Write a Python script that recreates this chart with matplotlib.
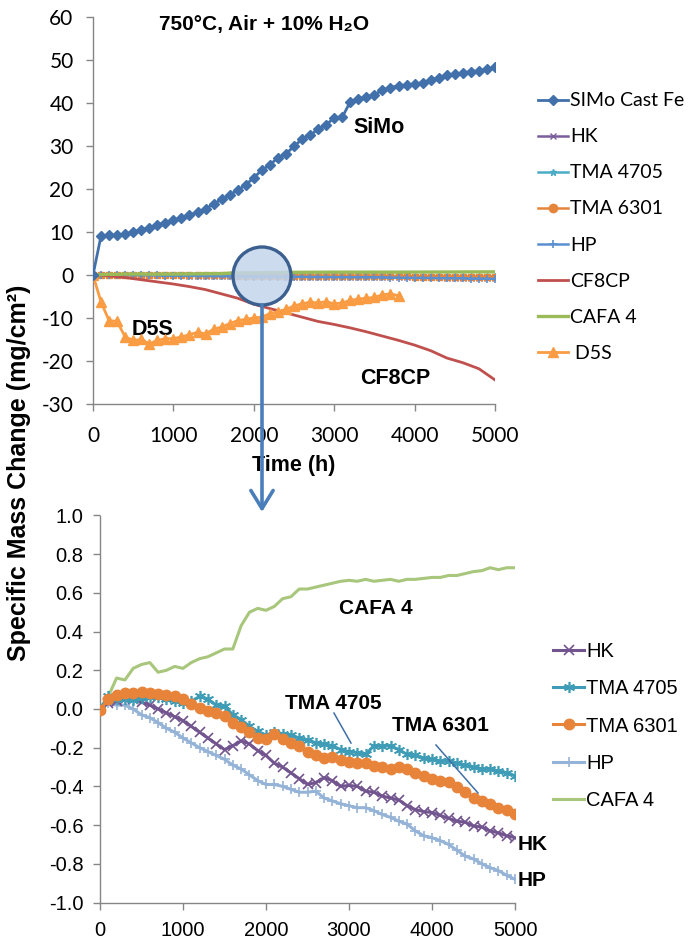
import matplotlib
matplotlib.use("Agg")
import matplotlib.pyplot as plt
from matplotlib.patches import Ellipse, FancyArrowPatch, ArrowStyle
from matplotlib.lines import Line2D
from matplotlib.ticker import MultipleLocator, FormatStrFormatter

plt.rcParams['axes.unicode_minus'] = False

# ---- exposure time axes (h) ----
hours = list(range(0, 5001, 100))
hours_d5s = list(range(0, 3801, 100))
hours_cf8cp = list(range(0, 5001, 200))

# ---- specific mass change (mg/cm^2) ----
simo = [0.0, 9.1, 9.2, 9.3, 9.5, 10.0, 10.5, 11.0, 11.7, 12.2, 12.7, 13.3, 14.0, 14.6,
        15.4, 16.5, 17.6, 18.7, 19.7, 21.0, 22.6, 24.4, 25.6, 27.3, 28.2, 29.9, 31.6,
        32.5, 33.9, 34.9, 36.6, 36.7, 40.3, 41.0, 41.3, 41.9, 43.0, 43.6, 44.0, 44.2,
        44.4, 44.7, 45.3, 45.9, 46.5, 46.7, 47.0, 47.3, 47.5, 47.8, 48.3]

cf8cp = [0.0, -0.2, -0.6, -1.1, -1.6, -2.1, -2.7, -3.4, -4.4, -5.4, -6.8, -7.8, -8.8,
         -9.8, -10.8, -11.5, -12.3, -13.2, -14.2, -15.2, -16.3, -17.6, -19.3, -20.4,
         -21.8, -24.4]

d5s = [0.0, -6.3, -10.6, -10.8, -14.4, -15.2, -15.0, -16.0, -15.2, -14.8, -14.8, -14.4,
       -13.9, -13.3, -13.7, -12.6, -12.1, -11.3, -10.6, -10.3, -10.0, -9.8, -9.0, -8.5,
       -8.0, -7.2, -6.7, -6.3, -6.5, -6.2, -6.7, -6.5, -5.9, -5.6, -5.4, -5.2, -4.6,
       -4.4, -4.8]

hk = [0.0, 0.03, 0.04, 0.05, 0.05, 0.035, 0.02, 0.0, -0.02, -0.04, -0.06, -0.09, -0.12,
      -0.15, -0.18, -0.21, -0.19, -0.165, -0.18, -0.215, -0.24, -0.28, -0.30, -0.33,
      -0.36, -0.39, -0.38, -0.355, -0.37, -0.40, -0.395, -0.40, -0.425, -0.43, -0.45,
      -0.46, -0.47, -0.50, -0.52, -0.53, -0.535, -0.55, -0.565, -0.58, -0.585, -0.605,
      -0.61, -0.63, -0.64, -0.655, -0.665]

tma4705 = [0.0, 0.065, 0.05, 0.05, 0.045, 0.055, 0.06, 0.06, 0.05, 0.04, 0.03, 0.04,
           0.065, 0.05, 0.02, 0.015, -0.03, -0.055, -0.09, -0.115, -0.135, -0.12, -0.13,
           -0.135, -0.15, -0.16, -0.175, -0.18, -0.19, -0.21, -0.22, -0.225, -0.235,
           -0.19, -0.19, -0.19, -0.21, -0.235, -0.24, -0.255, -0.26, -0.27, -0.27,
           -0.28, -0.29, -0.30, -0.31, -0.31, -0.32, -0.33, -0.345]

tma6301 = [-0.005, 0.05, 0.07, 0.085, 0.085, 0.09, 0.085, 0.075, 0.07, 0.065, 0.05,
           0.025, 0.005, -0.01, -0.02, -0.035, -0.07, -0.095, -0.12, -0.15, -0.155,
           -0.13, -0.155, -0.175, -0.19, -0.22, -0.24, -0.255, -0.25, -0.265, -0.275,
           -0.28, -0.28, -0.295, -0.30, -0.31, -0.30, -0.31, -0.33, -0.345, -0.36,
           -0.37, -0.375, -0.405, -0.43, -0.46, -0.475, -0.49, -0.51, -0.52, -0.545]

hp = [0.0, 0.03, 0.02, 0.02, 0.0, -0.03, -0.045, -0.07, -0.10, -0.12, -0.15, -0.175,
      -0.20, -0.22, -0.24, -0.26, -0.29, -0.31, -0.34, -0.37, -0.39, -0.39, -0.40,
      -0.415, -0.43, -0.43, -0.425, -0.46, -0.475, -0.49, -0.50, -0.51, -0.51, -0.525,
      -0.545, -0.56, -0.58, -0.595, -0.63, -0.655, -0.665, -0.68, -0.70, -0.73, -0.76,
      -0.775, -0.80, -0.82, -0.835, -0.86, -0.88]

cafa4 = [0.0, 0.065, 0.16, 0.15, 0.21, 0.23, 0.24, 0.19, 0.20, 0.22, 0.21, 0.24, 0.26,
         0.27, 0.29, 0.31, 0.31, 0.43, 0.50, 0.52, 0.51, 0.53, 0.57, 0.58, 0.62, 0.62,
         0.63, 0.64, 0.65, 0.66, 0.665, 0.66, 0.67, 0.66, 0.665, 0.67, 0.66, 0.67, 0.67,
         0.675, 0.68, 0.68, 0.69, 0.69, 0.70, 0.71, 0.715, 0.73, 0.72, 0.73, 0.73]

# ---- fonts ----
LATO = ['Lato', 'DejaVu Sans']
ARIAL = ['Liberation Sans', 'DejaVu Sans']
NARROW = ['Liberation Sans Narrow', 'Liberation Sans', 'DejaVu Sans']

AXIS_GREY = '#868686'

W, H = 688, 938
fig = plt.figure(figsize=(W / 100, H / 100), dpi=100)
fig.patch.set_facecolor('white')


def px_axes(left, top, right, bottom):
    return [left / W, 1 - bottom / H, (right - left) / W, (bottom - top) / H]


def style_axes(ax, font, size, pad_x, pad_y):
    for side in ('top', 'right'):
        ax.spines[side].set_visible(False)
    for side in ('left', 'bottom'):
        ax.spines[side].set_color(AXIS_GREY)
        ax.spines[side].set_linewidth(1.0)
    ax.tick_params(axis='both', direction='out', length=5, width=1.0, color=AXIS_GREY,
                   labelsize=size)
    ax.tick_params(axis='x', pad=pad_x)
    ax.tick_params(axis='y', pad=pad_y)
    for lab in ax.get_xticklabels() + ax.get_yticklabels():
        lab.set_family(font)


# ================= overview panel =================
ax1 = fig.add_axes(px_axes(93, 17, 495, 404))
ax1.set_xlim(0, 5000)
ax1.set_ylim(-30, 60)
ax1.xaxis.set_major_locator(MultipleLocator(1000))
ax1.yaxis.set_major_locator(MultipleLocator(10))

ax1.plot(hours, simo, color='#4170aa', lw=2.0, marker='D', ms=5.5, label='SIMo Cast Fe', zorder=5)
ax1.plot(hours, hk, color='#7b5d9c', lw=1.8, marker='x', ms=4.5, mew=1.0, label='HK')
ax1.plot(hours, tma4705, color='#4bacc6', lw=1.8, marker='*', ms=5, label='TMA 4705')
ax1.plot(hours, tma6301, color='#e5853b', lw=1.8, marker='s', ms=4, label='TMA 6301')
ax1.plot(hours, hp, color='#5a8fd0', lw=1.8, marker='+', ms=6, mew=1.2, label='HP')
ax1.plot(hours_cf8cp, cf8cp, color='#c0504d', lw=2.0, label='CF8CP')
ax1.plot(hours, cafa4, color='#9bbb59', lw=2.4, label='CAFA 4')
ax1.plot(hours_d5s, d5s, color='#f99c43', lw=2.0, marker='^', ms=6.5, label=' D5S', zorder=4)

style_axes(ax1, LATO, 15, 11, 9)

ax1.text(2127, 58.3, '750°C, Air + 10% H₂O', family=ARIAL, fontweight='bold',
         fontsize=15, ha='center', va='center')
ax1.text(3558, 34.4, 'SiMo', family=ARIAL, fontweight='bold', fontsize=15.5,
         ha='center', va='center')
ax1.text(746, -12.6, 'D5S', family=ARIAL, fontweight='bold', fontsize=15.5,
         ha='center', va='center')
ax1.text(3756, -24.0, 'CF8CP', family=ARIAL, fontweight='bold', fontsize=15.5,
         ha='center', va='center')
ax1.set_xlabel('Time (h)', family=ARIAL, fontweight='bold', fontsize=15.5, labelpad=6)

# legend markers as in the spreadsheet legend (circle for TMA 6301)
h1, l1 = ax1.get_legend_handles_labels()
h1[3] = Line2D([], [], color='#e5853b', lw=1.8, marker='o', ms=6)
leg1 = ax1.legend(h1, l1, loc='center left', bbox_to_anchor=(538 / W, 1 - 227 / H),
                  bbox_transform=fig.transFigure, frameon=False, numpoints=1,
                  prop={'family': LATO, 'size': 14}, handlelength=1.55,
                  handletextpad=0.1, labelspacing=0.98, borderpad=0, borderaxespad=0)

# ================= zoomed panel =================
ax2 = fig.add_axes(px_axes(100, 515.5, 515, 902.5))
ax2.set_xlim(0, 5000)
ax2.set_ylim(-1.0, 1.0)
ax2.xaxis.set_major_locator(MultipleLocator(1000))
ax2.yaxis.set_major_locator(MultipleLocator(0.2))
ax2.yaxis.set_major_formatter(FormatStrFormatter('%.1f'))

ax2.plot(hours, cafa4, color='#a8c67c', lw=2.2, zorder=2)
ax2.plot(hours, hp, color='#95b3d7', lw=2.2, marker='+', ms=7, mew=1.2, label='HP', zorder=3)
ax2.plot(hours, hk, color='#72558f', lw=2.2, marker='x', ms=6.5, mew=1.2, label='HK', zorder=4)
ax2.plot(hours, tma4705, color='#3e9cb6', lw=2.2, marker=(6, 2, 0), ms=8, mew=1.2,
         label='TMA 4705', zorder=4)
ax2.plot(hours, tma6301, color='#e8833a', lw=2.2, marker='o', ms=7.5, label='TMA 6301', zorder=5)

style_axes(ax2, NARROW, 14.5, 8, 7)

lbl = dict(family=NARROW, fontweight='bold', fontsize=15, ha='center', va='center')
ax2.text(3320, 0.52, 'CAFA 4', **lbl)
ax2.text(2807, 0.031, 'TMA 4705', **lbl)
ax2.text(4096, -0.083, 'TMA 6301', **lbl)
ax2.text(5217, -0.70, 'HK', **lbl)
ax2.text(5205, -0.884, 'HP', **lbl)
ax2.plot([2819, 3024], [-0.021, -0.176], color='#3f6fa9', lw=1.1, zorder=6)
ax2.plot([4048, 4554], [-0.186, -0.434], color='#3f6fa9', lw=1.1, zorder=6)

# legend in the series order of the overview
h2, l2 = ax2.get_legend_handles_labels()
order = ['HK', 'TMA 4705', 'TMA 6301', 'HP']
handles = [h2[l2.index(n)] for n in order]
handles.append(Line2D([], [], color='#a8c67c', lw=2.2))
leg2 = ax2.legend(handles, order + ['CAFA 4'], loc='center left',
                  bbox_to_anchor=(553 / W, 1 - 726 / H), bbox_transform=fig.transFigure,
                  frameon=False, numpoints=1, prop={'family': NARROW, 'size': 14.5},
                  handlelength=1.55, handletextpad=0.1, labelspacing=0.9,
                  borderpad=0, borderaxespad=0)

# shared y label
fig.text(19 / W, 1 - 473 / H, 'Specific Mass Change (mg/cm²)', family=ARIAL,
         fontweight='bold', fontsize=18, rotation=90, ha='center', va='center')

# magnifier circle and arrow linking the panels
inch = fig.dpi_scale_trans
cx, cy, r = 262 / 100, (H - 276) / 100, 0.29
fig.add_artist(Ellipse((cx, cy), 2 * r, 2 * r, transform=inch,
                       facecolor=(0.77, 0.84, 0.92, 0.85), edgecolor='#3b5f8e',
                       lw=2.4, zorder=20))
fig.add_artist(FancyArrowPatch((cx, cy - r), (cx, (H - 512) / 100), transform=inch,
                               arrowstyle=ArrowStyle('->', head_length=0.65, head_width=0.4),
                               mutation_scale=20, color='#4a7ebb', lw=2.6,
                               shrinkA=0, shrinkB=0, zorder=21))

fig.savefig('out.png', dpi=100, facecolor='white')
